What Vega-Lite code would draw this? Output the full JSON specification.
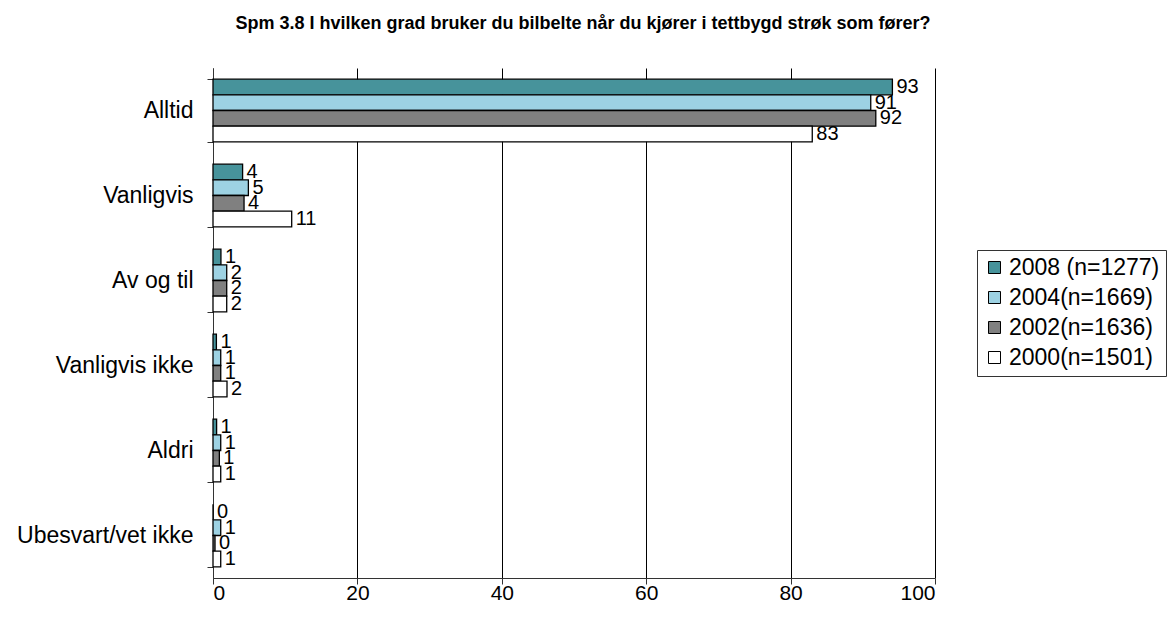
{
  "$schema": "https://vega.github.io/schema/vega-lite/v6.json",
  "width": 722,
  "height": 510,
  "autosize": {"type": "none"},
  "padding": {"left": 213, "top": 68, "right": 232, "bottom": 47},
  "background": "white",
  "config": {"font": "Liberation Sans", "view": {"stroke": null}},
  "title": {
    "text": "Spm 3.8 I hvilken grad bruker du bilbelte når du kjører i tettbygd strøk som fører?",
    "fontSize": 18,
    "fontWeight": "bold",
    "anchor": "middle",
    "frame": "group",
    "dx": 9,
    "offset": 24,
    "color": "black"
  },
  "data": {
    "values": [
      {"cat": "Alltid", "year": "2008 (n=1277)", "value": 94.1, "label": "93"},
      {"cat": "Alltid", "year": "2004(n=1669)", "value": 91.1, "label": "91"},
      {"cat": "Alltid", "year": "2002(n=1636)", "value": 91.8, "label": "92"},
      {"cat": "Alltid", "year": "2000(n=1501)", "value": 83.0, "label": "83"},
      {"cat": "Vanligvis", "year": "2008 (n=1277)", "value": 4.1, "label": "4"},
      {"cat": "Vanligvis", "year": "2004(n=1669)", "value": 4.9, "label": "5"},
      {"cat": "Vanligvis", "year": "2002(n=1636)", "value": 4.3, "label": "4"},
      {"cat": "Vanligvis", "year": "2000(n=1501)", "value": 10.9, "label": "11"},
      {"cat": "Av og til", "year": "2008 (n=1277)", "value": 1.1, "label": "1"},
      {"cat": "Av og til", "year": "2004(n=1669)", "value": 1.9, "label": "2"},
      {"cat": "Av og til", "year": "2002(n=1636)", "value": 1.9, "label": "2"},
      {"cat": "Av og til", "year": "2000(n=1501)", "value": 1.9, "label": "2"},
      {"cat": "Vanligvis ikke", "year": "2008 (n=1277)", "value": 0.47, "label": "1"},
      {"cat": "Vanligvis ikke", "year": "2004(n=1669)", "value": 1.07, "label": "1"},
      {"cat": "Vanligvis ikke", "year": "2002(n=1636)", "value": 1.07, "label": "1"},
      {"cat": "Vanligvis ikke", "year": "2000(n=1501)", "value": 1.94, "label": "2"},
      {"cat": "Aldri", "year": "2008 (n=1277)", "value": 0.5, "label": "1"},
      {"cat": "Aldri", "year": "2004(n=1669)", "value": 1.07, "label": "1"},
      {"cat": "Aldri", "year": "2002(n=1636)", "value": 0.88, "label": "1"},
      {"cat": "Aldri", "year": "2000(n=1501)", "value": 1.07, "label": "1"},
      {"cat": "Ubesvart/vet ikke", "year": "2008 (n=1277)", "value": 0, "label": "0"},
      {"cat": "Ubesvart/vet ikke", "year": "2004(n=1669)", "value": 1.07, "label": "1"},
      {"cat": "Ubesvart/vet ikke", "year": "2002(n=1636)", "value": 0.28, "label": "0"},
      {"cat": "Ubesvart/vet ikke", "year": "2000(n=1501)", "value": 1.07, "label": "1"}
    ]
  },
  "encoding": {
    "y": {
      "field": "cat",
      "type": "nominal",
      "sort": ["Alltid", "Vanligvis", "Av og til", "Vanligvis ikke", "Aldri", "Ubesvart/vet ikke"],
      "scale": {"paddingInner": 0.264, "paddingOuter": 0.132},
      "axis": {
        "title": null,
        "labelFontSize": 23,
        "labelColor": "black",
        "labelPadding": 14,
        "tickSize": 6,
        "tickColor": "#333333",
        "domainColor": "#333333",
        "tickBand": "extent",
        "grid": false
      }
    },
    "yOffset": {
      "field": "year",
      "type": "nominal",
      "sort": ["2008 (n=1277)", "2004(n=1669)", "2002(n=1636)", "2000(n=1501)"],
      "scale": {"paddingInner": 0, "paddingOuter": 0}
    },
    "x": {
      "field": "value",
      "type": "quantitative",
      "scale": {"domain": [0, 100], "nice": false},
      "axis": {
        "title": null,
        "values": [0, 20, 40, 60, 80, 100],
        "labelFontSize": 21,
        "labelColor": "black",
        "labelPadding": -2,
        "tickSize": 6,
        "tickColor": "#333333",
        "domainColor": "#333333",
        "grid": true,
        "gridColor": "black",
        "gridOpacity": 1,
        "gridWidth": 1
      }
    }
  },
  "layer": [
    {
      "mark": {"type": "bar", "stroke": "black", "strokeWidth": 1.3},
      "encoding": {
        "color": {
          "field": "year",
          "type": "nominal",
          "scale": {
            "domain": ["2008 (n=1277)", "2004(n=1669)", "2002(n=1636)", "2000(n=1501)"],
            "range": ["#47939B", "#9DD2E3", "#808080", "#FFFFFF"]
          },
          "legend": {
            "title": null,
            "orient": "none",
            "legendX": 764,
            "legendY": 182,
            "strokeColor": "#333333",
            "fillColor": "white",
            "padding": 6,
            "symbolType": "square",
            "symbolSize": 144,
            "symbolStrokeColor": "black",
            "symbolStrokeWidth": 1,
            "symbolOpacity": 1,
            "labelFontSize": 23,
            "labelColor": "black",
            "rowPadding": 6,
            "labelOffset": 3
          }
        }
      }
    },
    {
      "mark": {"type": "text", "align": "left", "baseline": "middle", "dx": 4, "fontSize": 20, "color": "black"},
      "encoding": {"text": {"field": "label"}}
    }
  ]
}
